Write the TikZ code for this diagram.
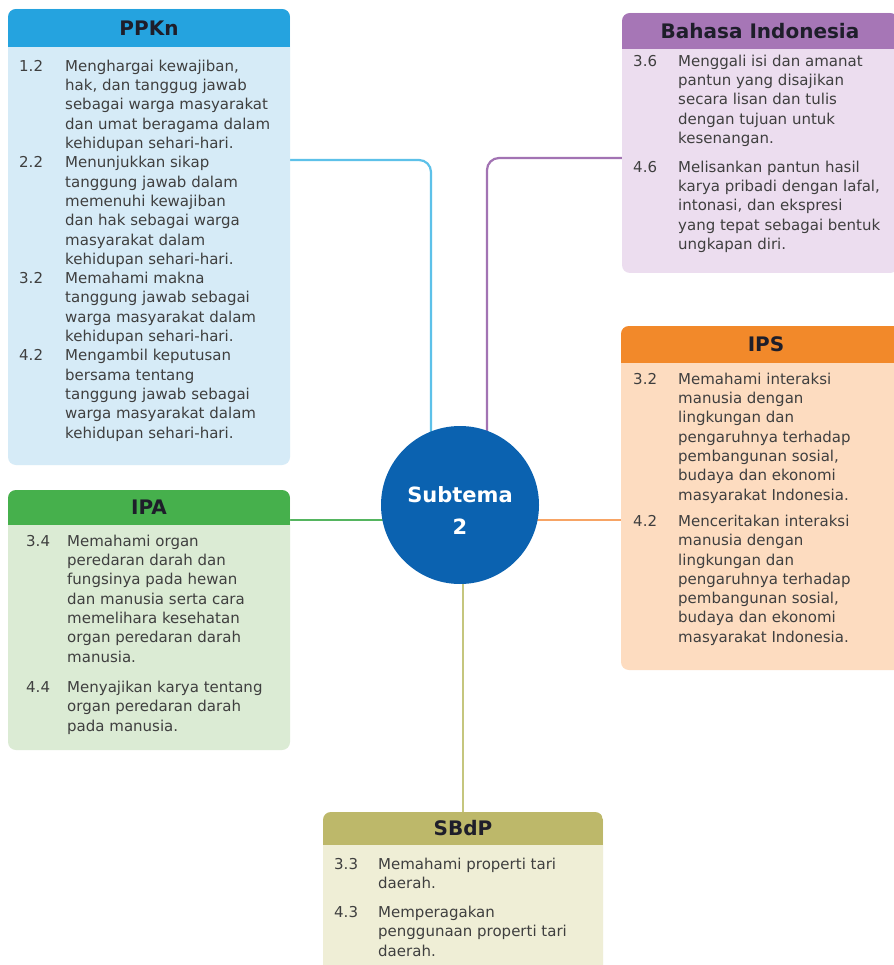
\documentclass[tikz,border=0pt]{standalone}
\usepackage{fontspec}
\setmainfont{DejaVu Sans}
\usetikzlibrary{calc}
\pgfdeclarelayer{bg}
\pgfsetlayers{bg,main}
\definecolor{ppkH}{HTML}{25A3DF}
\definecolor{ppkB}{HTML}{D6EBF7}
\definecolor{ppkL}{HTML}{5DC1E9}
\definecolor{bhsH}{HTML}{A676B6}
\definecolor{bhsB}{HTML}{ECDDEF}
\definecolor{bhsL}{HTML}{A273B3}
\definecolor{ipsH}{HTML}{F2892A}
\definecolor{ipsB}{HTML}{FDDCC0}
\definecolor{ipsL}{HTML}{F7A465}
\definecolor{ipaH}{HTML}{46B04C}
\definecolor{ipaB}{HTML}{DBEBD4}
\definecolor{ipaL}{HTML}{55B560}
\definecolor{sbdH}{HTML}{BDB86A}
\definecolor{sbdB}{HTML}{EFEED6}
\definecolor{sbdL}{HTML}{C5C67E}
\definecolor{circcol}{HTML}{0B62B0}
\definecolor{bodytxt}{HTML}{3F3F3F}
\definecolor{headtxt}{HTML}{1E1E2A}
\newcommand\itemtab[2]{\begin{tabular}{@{}p{#1}@{}l@{}}#2\end{tabular}}
% name, x1, y1, width, height, header height, header colour, body colour
\newcommand\subjbox[8]{%
  \node[boxbody, fill=#8, minimum width=#4pt, minimum height=#5pt, anchor=north west] (#1) at (#2,#3) {};
  \begin{scope}
    \clip[rounded corners=8pt] (#1.north west) rectangle (#1.south east);
    \fill[#7] (#1.north west) rectangle ($(#1.north east)+(0,#6)$);
  \end{scope}}
\tikzset{
  boxbody/.style={rectangle, rounded corners=8pt, inner sep=0pt, outer sep=0pt, draw=none},
  headtitle/.style={inner sep=0pt, text=headtxt, font=\bfseries\fontsize{20}{24}\selectfont},
  bodytext/.style={inner sep=0pt, anchor=north west, text=bodytxt, font=\fontsize{15}{19.3}\selectfont},
  conn/.style={line width=2.2pt},
}
\begin{document}
\begin{tikzpicture}[x=1pt,y=-1pt]
\useasboundingbox (0,0) rectangle (893,965);

% ---- PPKn
\subjbox{ppkn}{8}{9}{282}{456}{38}{ppkH}{ppkB}
\node[headtitle] (ppkn-t) at (149,28) {PPKn};
\node[bodytext] (ppkn-b) at (19,57.6) {\itemtab{46pt}{%
1.2 & Menghargai kewajiban,\\ & hak, dan tanggug jawab\\ & sebagai warga masyarakat\\ & dan umat beragama dalam\\ & kehidupan sehari-hari.\\
2.2 & Menunjukkan sikap\\ & tanggung jawab dalam\\ & memenuhi kewajiban\\ & dan hak sebagai warga\\ & masyarakat dalam\\ & kehidupan sehari-hari.\\
3.2 & Memahami makna\\ & tanggung jawab sebagai\\ & warga masyarakat dalam\\ & kehidupan sehari-hari.\\
4.2 & Mengambil keputusan\\ & bersama tentang\\ & tanggung jawab sebagai\\ & warga masyarakat dalam\\ & kehidupan sehari-hari.}};

% ---- Bahasa Indonesia
\subjbox{bhs}{622}{13}{276}{260}{36}{bhsH}{bhsB}
\node[headtitle] (bhs-t) at (760,31) {Bahasa Indonesia};
\node[bodytext] (bhs-b) at (633,52.6) {\itemtab{45pt}{%
3.6 & Menggali isi dan amanat\\ & pantun yang disajikan\\ & secara lisan dan tulis\\ & dengan tujuan untuk\\ & kesenangan.\\[9.5pt]
4.6 & Melisankan pantun hasil\\ & karya pribadi dengan lafal,\\ & intonasi, dan ekspresi\\ & yang tepat sebagai bentuk\\ & ungkapan diri.}};

% ---- IPS
\subjbox{ips}{621}{326}{290}{344}{37}{ipsH}{ipsB}
\node[headtitle] (ips-t) at (766,344.5) {IPS};
\node[bodytext] (ips-b) at (633,370.6) {\itemtab{45pt}{%
3.2 & Memahami interaksi\\ & manusia dengan\\ & lingkungan dan\\ & pengaruhnya terhadap\\ & pembangunan sosial,\\ & budaya dan ekonomi\\ & masyarakat Indonesia.\\[7pt]
4.2 & Menceritakan interaksi\\ & manusia dengan\\ & lingkungan dan\\ & pengaruhnya terhadap\\ & pembangunan sosial,\\ & budaya dan ekonomi\\ & masyarakat Indonesia.}};

% ---- IPA
\subjbox{ipa}{8}{490}{282}{260}{35}{ipaH}{ipaB}
\node[headtitle] (ipa-t) at (149,507.5) {IPA};
\node[bodytext] (ipa-b) at (26,532.6) {\itemtab{41pt}{%
3.4 & Memahami organ\\ & peredaran darah dan\\ & fungsinya pada hewan\\ & dan manusia serta cara\\ & memelihara kesehatan\\ & organ peredaran darah\\ & manusia.\\[11pt]
4.4 & Menyajikan karya tentang\\ & organ peredaran darah\\ & pada manusia.}};

% ---- SBdP
\subjbox{sbdp}{323}{812}{280}{163}{33}{sbdH}{sbdB}
\node[headtitle] (sbdp-t) at (463,828.5) {SBdP};
\node[bodytext] (sbdp-b) at (334,855.6) {\itemtab{44pt}{%
3.3 & Memahami properti tari\\ & daerah.\\[9.5pt]
4.3 & Memperagakan\\ & penggunaan properti tari\\ & daerah.}};

% ---- centre
\node[circle, fill=circcol, minimum size=158pt, inner sep=0pt] (sub) at (460,505) {};
\node[inner sep=0pt, align=center, text=white, font=\bfseries\fontsize{21}{32}\selectfont] (sub-t) at (460,510.5) {Subtema\\2};

% ---- connectors
\coordinate (ppkJ) at (0,160);
\coordinate (bhsJ) at (0,158);
\coordinate (horJ) at (0,520);
\begin{pgfonlayer}{bg}
  \fill[white] (0,0) rectangle (893,965);
  \draw[conn, ppkL, rounded corners=12pt] (ppkn.east |- ppkJ) -| ($(sub.center)+(-29,0)$);
  \draw[conn, bhsL, rounded corners=12pt] (bhs.west |- bhsJ) -| ($(sub.center)+(27,0)$);
  \draw[conn, ipaL] (ipa.east |- horJ) -- (sub.center |- horJ);
  \draw[conn, ipsL] (sub.center |- horJ) -- (ips.west |- horJ);
  \draw[conn, sbdL] (sub.center -| sbdp.north) -- (sbdp.north);
\end{pgfonlayer}
\end{tikzpicture}
\end{document}
